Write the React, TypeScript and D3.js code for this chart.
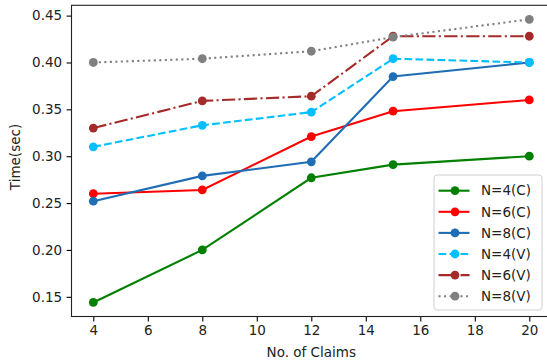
import { useRef, useEffect } from 'react';
import * as d3 from 'd3';

// claims on the x axis
const claims = [4, 8, 12, 15, 20];

// time (sec) per series
const n4C = [0.144, 0.2, 0.277, 0.291, 0.3];
const n6C = [0.26, 0.264, 0.321, 0.348, 0.36];
const n8C = [0.252, 0.279, 0.294, 0.385, 0.4];
const n4V = [0.31, 0.333, 0.347, 0.404, 0.4];
const n6V = [0.33, 0.359, 0.364, 0.428, 0.428];
const n8V = [0.4, 0.404, 0.412, 0.427, 0.446];

const seriesNames = ['N=4(C)', 'N=6(C)', 'N=8(C)', 'N=4(V)', 'N=6(V)', 'N=8(V)'];
const seriesValues = [n4C, n6C, n8C, n4V, n6V, n8V];
const seriesColors = ['#008000', '#ff0000', '#1f6db4', '#00bfff', '#a52a2a', '#808080'];
const seriesDash = ['', '', '', '7.7,3.3', '13.3,3.3,2.1,3.3', '2.1,3.4'];

const xTicks = [4, 6, 8, 10, 12, 14, 16, 18, 20];
const yTicks = [0.15, 0.2, 0.25, 0.3, 0.35, 0.4, 0.45];

const W = 547;
const H = 364;
const FONT = '"DejaVu Sans", sans-serif';

export default function App() {
  const svgRef = useRef<SVGSVGElement>(null);

  useEffect(() => {
    const svg = d3.select(svgRef.current);
    svg.selectAll('*').remove();

    const x = d3.scaleLinear().domain([3.2, 20.8]).range([71.5, 551.1]);
    const y = d3.scaleLinear().domain([0.129, 0.461]).range([316.5, 5.3]);
    const [x0, x1] = x.range();
    const [y0, y1] = y.range();

    svg.append('rect').attr('width', W).attr('height', H).attr('fill', '#fff');

    // axes
    const gx = svg.append('g').attr('transform', 'translate(0,' + y0 + ')')
      .call(d3.axisBottom(x).tickValues(xTicks).tickSize(4.9).tickPadding(4).tickFormat(d3.format('d')));
    const gy = svg.append('g').attr('transform', 'translate(' + x0 + ',0)')
      .call(d3.axisLeft(y).tickValues(yTicks).tickSize(4.9).tickPadding(4.5).tickFormat(d3.format('.2f')));
    [gx, gy].forEach(function (g) {
      g.select('.domain').remove();
      g.selectAll('line').attr('stroke', '#000').attr('stroke-width', 1.1);
      g.selectAll('text').attr('fill', '#222').style('font-family', FONT).style('font-size', '13.5px');
    });

    // frame
    svg.append('rect')
      .attr('x', x0).attr('y', y1).attr('width', x1 - x0).attr('height', y0 - y1)
      .attr('fill', 'none').attr('stroke', '#222').attr('stroke-width', 1.1);

    // series
    const line = d3.line<number>().x(function (_d, i) { return x(claims[i]); }).y(function (d) { return y(d); });
    seriesValues.forEach(function (vals, si) {
      const g = svg.append('g');
      g.append('path').datum(vals)
        .attr('d', line)
        .attr('fill', 'none')
        .attr('stroke', seriesColors[si])
        .attr('stroke-width', 2.1)
        .attr('stroke-dasharray', seriesDash[si] || null);
      g.selectAll('circle').data(vals).join('circle')
        .attr('cx', function (_d, i) { return x(claims[i]); })
        .attr('cy', function (d) { return y(d); })
        .attr('r', 4.4)
        .attr('fill', seriesColors[si]);
    });

    // axis titles
    svg.append('text')
      .attr('x', (x0 + x1) / 2).attr('y', 357)
      .attr('text-anchor', 'middle')
      .style('font-family', FONT).style('font-size', '13.5px').attr('fill', '#222')
      .text('No. of Claims');
    svg.append('text')
      .attr('transform', 'translate(20,' + 157 + ') rotate(-90)')
      .attr('text-anchor', 'middle')
      .style('font-family', FONT).style('font-size', '13.5px').attr('fill', '#222')
      .text('Time(sec)');

    // legend
    const lg = svg.append('g');
    lg.append('rect')
      .attr('x', 434).attr('y', 175).attr('width', 108).attr('height', 135)
      .attr('rx', 3).attr('fill', '#fff').attr('fill-opacity', 0.85)
      .attr('stroke', '#d0d0d0').attr('stroke-width', 1);
    seriesNames.forEach(function (name, i) {
      const cy = 190.7 + i * 21.1;
      lg.append('line')
        .attr('x1', 438.5).attr('x2', 469.5).attr('y1', cy).attr('y2', cy)
        .attr('stroke', seriesColors[i]).attr('stroke-width', 2.1)
        .attr('stroke-dasharray', seriesDash[i] || null);
      lg.append('circle').attr('cx', 455).attr('cy', cy).attr('r', 4.4).attr('fill', seriesColors[i]);
      lg.append('text')
        .attr('x', 481).attr('y', cy).attr('dy', '0.35em')
        .style('font-family', FONT).style('font-size', '13.5px').attr('fill', '#222')
        .text(name);
    });
  }, []);

  return (
    <div style={{ position: 'absolute', left: 0, top: 0 }}>
      <svg ref={svgRef} width={W} height={H} style={{ display: 'block' }} />
    </div>
  );
}
